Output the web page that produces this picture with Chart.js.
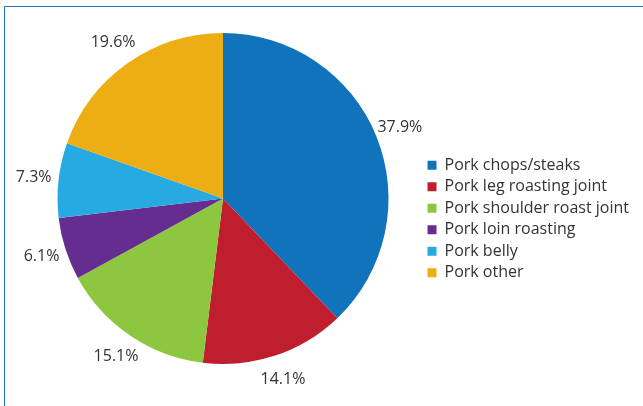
<!DOCTYPE html>
<html>
<head>
<meta charset="utf-8">
<title>Pork cuts share</title>
<script src="https://cdn.jsdelivr.net/npm/chart.js@4.4.0/dist/chart.umd.min.js"></script>
<style>
    html, body { margin: 0; padding: 0; background: #fff; }
    body { width: 643px; height: 406px; overflow: hidden; position: relative; }
    #frame {
        position: absolute; left: 4px; top: 6px; width: 700px; height: 500px;
        border-left: 1.5px solid #1b75bc; border-top: 1.5px solid #1b75bc;
    }
    #wrap { position: absolute; left: 0; top: 0; width: 643px; height: 406px; }
</style>
</head>
<body>
<div id="frame"></div>
<div id="wrap"><canvas id="pieChart"></canvas></div>
<script>
// Chart data
var categories = [
    'Pork chops/steaks',
    'Pork leg roasting joint',
    'Pork shoulder roast joint',
    'Pork loin roasting',
    'Pork belly',
    'Pork other'
];
var shares = [37.9, 14.1, 15.1, 6.1, 7.3, 19.6];
var sliceColors = ['#1173bc', '#be1e2d', '#8dc63f', '#662d91', '#27aae1', '#edae13'];

var textFont = '"Open Sans", "Noto Sans", sans-serif';

// Percent labels just outside each slice
var outsideLabels = {
    id: 'outsideLabels',
    afterDatasetsDraw: function (chart) {
        var ctx = chart.ctx;
        var meta = chart.getDatasetMeta(0);
        ctx.save();
        ctx.font = '16px ' + textFont;
        ctx.fillStyle = '#333333';
        ctx.textAlign = 'center';
        ctx.textBaseline = 'middle';
        meta.data.forEach(function (arc, i) {
            var p = arc.getProps(['x', 'y', 'startAngle', 'endAngle', 'outerRadius'], true);
            var mid = (p.startAngle + p.endAngle) / 2;
            var r = p.outerRadius + 25;
            ctx.fillText(shares[i].toFixed(1) + '%', p.x + Math.cos(mid) * r, p.y + Math.sin(mid) * r);
        });
        ctx.restore();
    }
};

document.addEventListener('DOMContentLoaded', function () {
    var ctx = document.getElementById('pieChart').getContext('2d');
    var pieChart = new Chart(ctx, {
        type: 'pie',
        data: {
            labels: categories,
            datasets: [{
                data: shares,
                backgroundColor: sliceColors,
                borderWidth: 0,
                hoverOffset: 0
            }]
        },
        options: {
            responsive: true,
            maintainAspectRatio: false,
            animation: false,
            layout: {
                padding: { top: 33, bottom: 42, left: 24, right: 4 }
            },
            plugins: {
                legend: {
                    position: 'right',
                    align: 'center',
                    title: {
                        display: true,
                        text: '',
                        font: { size: 10 },
                        padding: { top: 29, bottom: 0 }
                    },
                    labels: {
                        boxWidth: 9,
                        boxHeight: 9,
                        padding: 5.5,
                        color: '#333333',
                        font: { family: textFont, size: 16 }
                    }
                },
                tooltip: { enabled: false }
            }
        },
        plugins: [outsideLabels]
    });
});
</script>
</body>
</html>
